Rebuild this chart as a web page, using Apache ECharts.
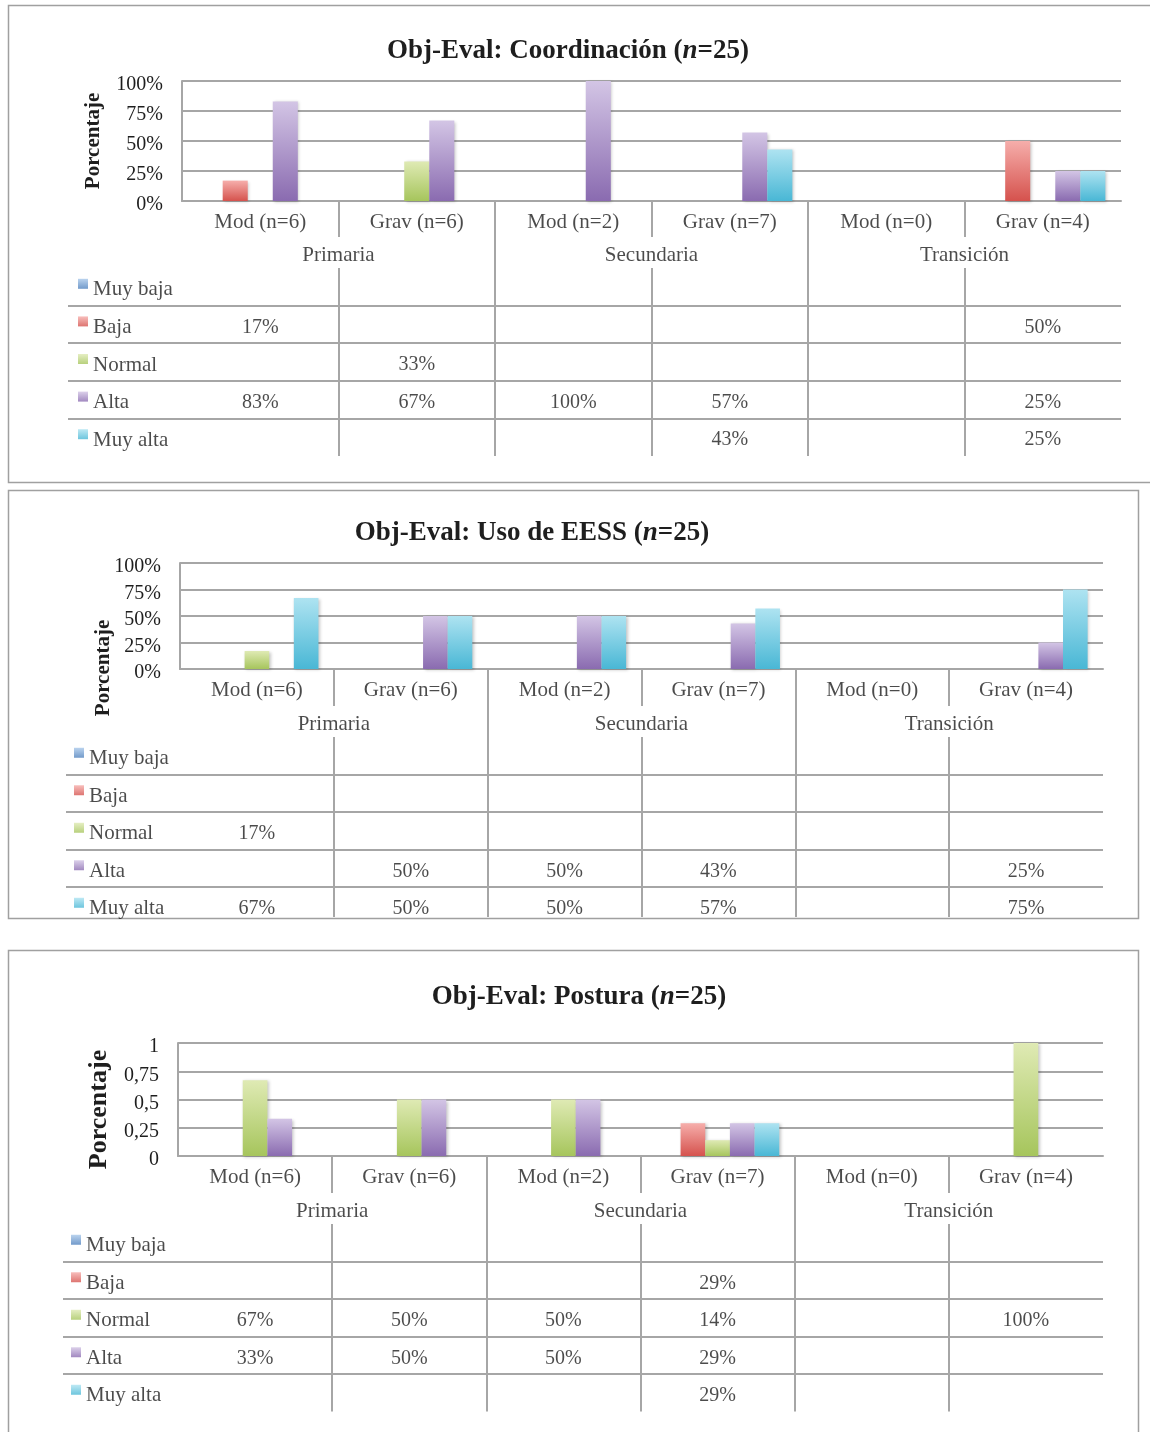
<!DOCTYPE html>
<html lang="es">
<head>
    <meta charset="UTF-8">
    <title>Obj-Eval</title>
    <script src="https://cdn.jsdelivr.net/npm/echarts@6/dist/echarts.min.js"></script>
</head>
<body style="margin:0;background:#fff">
<div id="box1" style="width: 1150px;height: 1432px"></div>
<script>
    // categorias y niveles comunes a los tres graficos
    var categorias = ['Mod (n=6)', 'Grav (n=6)', 'Mod (n=2)', 'Grav (n=7)', 'Mod (n=0)', 'Grav (n=4)'];
    var grupos = ['Primaria', 'Secundaria', 'Transición'];
    var niveles = ['Muy baja', 'Baja', 'Normal', 'Alta', 'Muy alta'];

    // Coordinacion
    var coordMuyBaja = [null, null, null, null, null, null];
    var coordBaja = [0.17, null, null, null, null, 0.50];
    var coordNormal = [null, 0.33, null, null, null, null];
    var coordAlta = [0.83, 0.67, 1.00, 0.57, null, 0.25];
    var coordMuyAlta = [null, null, null, 0.43, null, 0.25];

    // Uso de EESS
    var eessMuyBaja = [null, null, null, null, null, null];
    var eessBaja = [null, null, null, null, null, null];
    var eessNormal = [0.17, null, null, null, null, null];
    var eessAlta = [null, 0.50, 0.50, 0.43, null, 0.25];
    var eessMuyAlta = [0.67, 0.50, 0.50, 0.57, null, 0.75];

    // Postura
    var postMuyBaja = [null, null, null, null, null, null];
    var postBaja = [null, null, null, 0.29, null, null];
    var postNormal = [0.67, 0.50, 0.50, 0.14, null, 1.00];
    var postAlta = [0.33, 0.50, 0.50, 0.29, null, null];
    var postMuyAlta = [null, null, null, 0.29, null, null];

    var yTicks = [0, 0.25, 0.5, 0.75, 1];

    var FUENTE = '"Liberation Serif", "Times New Roman", serif';
    var GRIS = '#a6a6a6';
    var TEXTO = '#1e1e1e';
    var colores = [
        ['#a9c8ea', '#4f81bd'],
        ['#f6aeab', '#d5524d'],
        ['#dfeab4', '#a6c55c'],
        ['#d3c5e5', '#8a6bb0'],
        ['#aee3f1', '#49b7d5']
    ];

    function degradado(i) {
        return new echarts.graphic.LinearGradient(0, 0, 0, 1, [
            {offset: 0, color: colores[i][0]},
            {offset: 1, color: colores[i][1]}
        ]);
    }

    var paneles = [
        {titulo: 'Coordinación', series: [coordMuyBaja, coordBaja, coordNormal, coordAlta, coordMuyAlta],
            pct: true, left: 182, right: 1121, plotTop: 81, plotBottom: 201, catBottom: 237, grpBottom: 268,
            tablaBottom: 456, rowH: 37.6, etiqLeft: 68, marca: 15, titleX: 563, titleY: 33,
            nameSize: 21, nameGap: 78, namePad: 0},
        {titulo: 'Uso de EESS', series: [eessMuyBaja, eessBaja, eessNormal, eessAlta, eessMuyAlta],
            pct: true, left: 180, right: 1103, plotTop: 563, plotBottom: 669, catBottom: 706, grpBottom: 737,
            tablaBottom: 917, rowH: 37.5, etiqLeft: 66, marca: 13, titleX: 527, titleY: 515,
            nameSize: 21, nameGap: 66, namePad: 104},
        {titulo: 'Postura', series: [postMuyBaja, postBaja, postNormal, postAlta, postMuyAlta],
            pct: false, left: 178, right: 1103, plotTop: 1043, plotBottom: 1156, catBottom: 1193, grpBottom: 1224,
            tablaBottom: 1411.5, rowH: 37.5, etiqLeft: 63, marca: 13, titleX: 574, titleY: 979,
            nameSize: 26, nameGap: 66, namePad: 20}
    ];

    var grid = [], xAxis = [], yAxis = [], series = [], title = [];

    function ejeOculto(extra) {
        var ax = {type: 'value', axisLine: {show: false}, axisTick: {show: false},
            axisLabel: {show: false}, splitLine: {show: false}};
        for (var k in extra) ax[k] = extra[k];
        return ax;
    }

    function lineas() {
        return {show: true, showMinLine: false, showMaxLine: false, lineStyle: {color: GRIS, width: 2}};
    }

    function textoSerie(g, data, size) {
        return {
            type: 'scatter', xAxisIndex: g, yAxisIndex: g, symbolSize: 0, clip: false,
            silent: true, data: data,
            label: {show: true, position: 'inside', offset: [0, 3], fontFamily: FUENTE,
                fontSize: size || 20, color: TEXTO,
                formatter: function (p) { return p.value[2]; }}
        };
    }

    paneles.forEach(function (p, n) {
        var b = n * 5;
        var filas = Math.round((p.tablaBottom - p.grpBottom) / p.rowH * 100) / 100;

        title.push({
            text: '{b|Obj-Eval: ' + p.titulo + ' (}{i|n}{b|=25)}',
            left: p.titleX, top: p.titleY, textAlign: 'center',
            textStyle: {rich: {
                b: {fontFamily: FUENTE, fontSize: 27, fontWeight: 'bold', color: TEXTO},
                i: {fontFamily: FUENTE, fontSize: 27, fontWeight: 'bold', fontStyle: 'italic', color: TEXTO}
            }}
        });

        // grafico de barras
        grid.push({left: p.left, width: p.right - p.left, top: p.plotTop, height: p.plotBottom - p.plotTop});
        xAxis.push({type: 'category', gridIndex: b, data: categorias,
            axisLine: {lineStyle: {color: GRIS, width: 2}}, axisTick: {show: false},
            axisLabel: {show: false}, splitLine: {show: false}});
        yAxis.push({type: 'value', gridIndex: b, min: yTicks[0], max: yTicks[yTicks.length - 1], interval: 0.25,
            axisLine: {show: true, lineStyle: {color: GRIS, width: 2}}, axisTick: {show: false},
            splitLine: {lineStyle: {color: GRIS, width: 2}},
            axisLabel: {margin: 19,
                rich: {t: {fontFamily: FUENTE, fontSize: 20, color: TEXTO, padding: [8, 0, 0, 0]}},
                formatter: function (v) {
                    return '{t|' + (p.pct ? Math.round(v * 100) + '%' : String(v).replace('.', ',')) + '}';
                }},
            name: 'Porcentaje', nameLocation: 'middle', nameGap: p.nameGap, nameMoveOverlap: false,
            nameTextStyle: {fontFamily: FUENTE, fontSize: p.nameSize, fontWeight: 'bold', color: TEXTO,
                padding: [0, p.namePad, 0, 0]}
        });
        p.series.forEach(function (d, i) {
            series.push({
                type: 'bar', name: niveles[i], xAxisIndex: b, yAxisIndex: b, data: d,
                barGap: '0%', barCategoryGap: '20%',
                itemStyle: {color: degradado(i), shadowColor: 'rgba(0,0,0,0.22)', shadowBlur: 3,
                    shadowOffsetX: 1.5, shadowOffsetY: 1}
            });
        });

        // fila de categorias
        grid.push({left: p.left, width: p.right - p.left, top: p.plotBottom, height: p.catBottom - p.plotBottom});
        xAxis.push(ejeOculto({gridIndex: b + 1, min: 0, max: 6, interval: 1, splitLine: lineas()}));
        yAxis.push(ejeOculto({gridIndex: b + 1, min: 0, max: 1}));
        series.push(textoSerie(b + 1, categorias.map(function (c, i) { return [i + 0.5, 0.5, c]; }), 21));

        // fila de grupos
        grid.push({left: p.left, width: p.right - p.left, top: p.catBottom, height: p.grpBottom - p.catBottom});
        xAxis.push(ejeOculto({gridIndex: b + 2, min: 0, max: 6, interval: 2, splitLine: lineas()}));
        yAxis.push(ejeOculto({gridIndex: b + 2, min: 0, max: 1}));
        series.push(textoSerie(b + 2, grupos.map(function (g, i) { return [i * 2 + 1, 0.5, g]; }), 21));

        // tabla de datos
        grid.push({left: p.left, width: p.right - p.left, top: p.grpBottom, height: p.tablaBottom - p.grpBottom});
        xAxis.push(ejeOculto({gridIndex: b + 3, min: 0, max: 6, interval: 1, splitLine: lineas()}));
        yAxis.push(ejeOculto({gridIndex: b + 3, min: 0, max: filas, interval: 1, inverse: true,
            splitLine: lineas()}));
        var celdas = [];
        p.series.forEach(function (d, r) {
            d.forEach(function (v, i) {
                if (v !== null) celdas.push([i + 0.5, r + 0.5, Math.round(v * 100) + '%']);
            });
        });
        series.push(textoSerie(b + 3, celdas, 20));

        // columna de leyenda
        grid.push({left: p.etiqLeft, width: p.left - p.etiqLeft, top: p.grpBottom, height: p.tablaBottom - p.grpBottom});
        xAxis.push(ejeOculto({gridIndex: b + 4, min: 0, max: 1}));
        yAxis.push(ejeOculto({gridIndex: b + 4, min: 0, max: filas, interval: 1, inverse: true,
            splitLine: lineas()}));
        series.push({
            type: 'scatter', xAxisIndex: b + 4, yAxisIndex: b + 4, clip: false, silent: true,
            symbol: 'rect', symbolSize: [10, 10], symbolOffset: [p.marca, -3],
            data: niveles.map(function (nv, r) {
                return {value: [0, r + 0.5, nv], itemStyle: {color: degradado(r)}};
            }),
            label: {show: true, position: 'right', distance: 5, offset: [0, 6],
                fontFamily: FUENTE, fontSize: 21, color: TEXTO,
                formatter: function (q) { return q.value[2]; }}
        });
    });

    var mychart = echarts.init(document.getElementById('box1'));
    mychart.setOption({
        animation: false,
        title: title,
        grid: grid,
        xAxis: xAxis,
        yAxis: yAxis,
        series: series,
        graphic: [
            {type: 'rect', shape: {x: 8.5, y: 5.5, width: 1160, height: 477}, silent: true,
                style: {fill: null, stroke: '#a0a0a0', lineWidth: 1.5}},
            {type: 'rect', shape: {x: 8.5, y: 490.5, width: 1130, height: 428}, silent: true,
                style: {fill: null, stroke: '#a0a0a0', lineWidth: 1.5}},
            {type: 'rect', shape: {x: 8.5, y: 950.5, width: 1130, height: 500}, silent: true,
                style: {fill: null, stroke: '#a0a0a0', lineWidth: 1.5}}
        ]
    });
</script>
</body>
</html>
